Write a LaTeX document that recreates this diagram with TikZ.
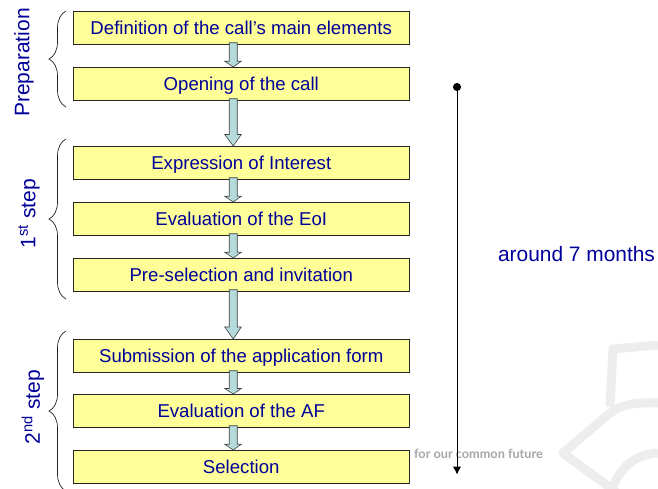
\documentclass[tikz,border=0pt]{standalone}
\usepackage{fontspec}
\setmainfont{Liberation Sans}
\newfontfamily\markfont{Lato}
\usetikzlibrary{positioning,arrows.meta,calc,decorations.pathreplacing}

\definecolor{boxyellow}{HTML}{FFFF99}
\definecolor{labelblue}{HTML}{000099}
\definecolor{arrowblue}{HTML}{B4DADC}

\tikzset{
  stepbox/.style={draw=black!85, line width=.9pt, fill=boxyellow, text=labelblue,
    minimum width=336pt, minimum height=33pt, inner sep=0pt, outer sep=0pt,
    text height=16pt, text depth=2pt, font=\fontsize{18.6pt}{20pt}\selectfont},
  phase/.style={text=labelblue, rotate=90, inner sep=0pt, font=\fontsize{21pt}{24pt}\selectfont},
  flow/.style={draw=black!75, fill=arrowblue, line width=.6pt,
    to path={let \p1=(\tikztostart.south), \p2=(\tikztotarget.north),
      \n1={0.25*(\y1-\y2)} in
      (\x1-12pt,\y1+1.3pt) -- (\x1-4pt,\y1+1.3pt) -- (\x1-4pt,\y2+\n1)
      -- (\x1,\y2+\n1) -- (\x1-8pt,\y2) -- (\x1-16.5pt,\y2+\n1)
      -- (\x1-12pt,\y2+\n1) -- cycle}},
  curly/.style={draw=black!85, line width=.7pt,
    decorate, decoration={brace, amplitude=17pt, aspect=.5}},
  watermark/.style={draw=black!7, line width=9pt, line join=round}
}

\begin{document}
\begin{tikzpicture}[x=1pt,y=-1pt]

  \useasboundingbox (0,0) rectangle (658,488);

  % faint background logo
  \draw[watermark] (658,345) -- (613,349) -- (610,407);
  \draw[watermark] (658,403) .. controls (635,402) and (620,405) .. (610,413) -- (563,453) -- (620,495);
  \draw[watermark] (658,453) .. controls (635,454) and (618,468) .. (610,495);
  \node[text=black!35, inner sep=0pt, font=\markfont\bfseries\fontsize{12.7pt}{14pt}\selectfont] (logo) at (478.5,454) {for our common future};

  \node[stepbox] (p0) at (241.25,27.5) {Definition of the call's main elements};
  \node[stepbox] (p1) [below=23pt of p0] {Opening of the call};
  \node[stepbox] (p2) [below=46pt of p1] {Expression of Interest};
  \node[stepbox] (p3) [below=23pt of p2] {Evaluation of the EoI};
  \node[stepbox] (p4) [below=23pt of p3] {Pre-selection and invitation};
  \node[stepbox] (p5) [below=48pt of p4] {Submission of the application form};
  \node[stepbox] (p6) [below=22pt of p5] {Evaluation of the AF};
  \node[stepbox] (p7) [below=23pt of p6] {Selection};

  \path[flow] (p0) to (p1);
  \path[flow] (p1) to (p2);
  \path[flow] (p2) to (p3);
  \path[flow] (p3) to (p4);
  \path[flow] (p4) to (p5);
  \path[flow] (p5) to (p6);
  \path[flow] (p6) to (p7);

  \coordinate (c0) at (66,11);
  \coordinate (c1) at (66,107);
  \coordinate (c2) at (66,139);
  \coordinate (c3) at (66,299);
  \coordinate (c4) at (66,331);
  \coordinate (c5) at (66,491);

  \draw[curly] (c1) -- (c0);
  \draw[curly] (c3) -- (c2);
  \draw[curly] (c5) -- (c4);

  \node[phase] (l0) at (24,62.5) {Preparation};
  \node[phase] (l1) at (29,213.5) {1\textsuperscript{st} step};
  \node[phase] (l2) at (33,407) {2\textsuperscript{nd} step};

  \coordinate (t0) at (457,83);
  \coordinate (t1) at (457,474.5);
  \draw[{Circle[length=8pt]}-{Latex[length=8pt,width=8.5pt]}, line width=1pt] (t0) -- (t1);

  \node[text=labelblue, inner sep=0pt, font=\fontsize{20.9pt}{24pt}\selectfont] (t2) at (576.5,254) {around 7 months};

\end{tikzpicture}
\end{document}
